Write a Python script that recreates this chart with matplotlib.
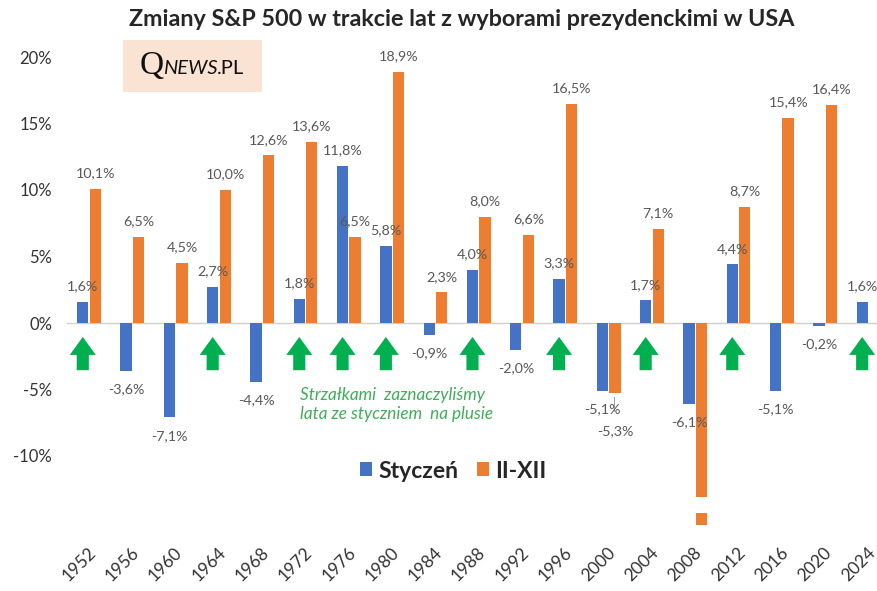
import matplotlib
matplotlib.use("Agg")
import matplotlib.pyplot as plt
from matplotlib.patches import Rectangle, FancyArrow, Patch
import matplotlib.transforms as mtrans
import numpy as np

plt.rcParams['font.family'] = ['Lato', 'DejaVu Sans']

years = ["1952", "1956", "1960", "1964", "1968", "1972", "1976", "1980", "1984", "1988",
         "1992", "1996", "2000", "2004", "2008", "2012", "2016", "2020", "2024"]
january = [1.6, -3.6, -7.1, 2.7, -4.4, 1.8, 11.8, 5.8, -0.9, 4.0,
           -2.0, 3.3, -5.1, 1.7, -6.1, 4.4, -5.1, -0.2, 1.6]
feb_dec = [10.1, 6.5, 4.5, 10.0, 12.6, 13.6, 6.5, 18.9, 2.3, 8.0,
           6.6, 16.5, -5.3, 7.1, -34.5, 8.7, 15.4, 16.4, None]
# bars beyond the axis are drawn broken and left unlabelled
broken_years = ["2008"]
yticks = [20, 15, 10, 5, 0, -5, -10]

BLUE = "#4472C4"
ORANGE = "#ED7D31"
GREEN = "#00B050"
LABEL = "#595959"

W, H = 878, 591
fig = plt.figure(figsize=(W / 100, H / 100), dpi=100)
YMIN, YMAX = -15.2, 21.0
ax_left = 67.4 / W
ax_w = (W - 67.4) / W
ax_top = 1 - (323 - YMAX * 13.3) / H
ax_bot = 1 - (323 - YMIN * 13.3) / H
ax = fig.add_axes([ax_left, ax_bot, ax_w, ax_top - ax_bot])

x = np.arange(len(years))
bw = 0.26
off = 0.145
ax.set_xlim(-0.5, (W - 67.4) / 43.3 - 0.5)
ax.set_ylim(YMIN, YMAX)

jan_arr = np.array(january, dtype=float)
fd_arr = np.array([np.nan if v is None else v for v in feb_dec], dtype=float)

ax.axhline(0, color="#D0D0D0", lw=1, zorder=1)
ax.bar(x - off, jan_arr, width=bw, color=BLUE, zorder=2)
ax.bar(x + off, fd_arr, width=bw, color=ORANGE, zorder=2)

def fmt(v):
    return f"{v:.1f}%".replace(".", ",")

LFS = 10.3
for i in range(len(years)):
    v = jan_arr[i]
    ax.annotate(fmt(v), (x[i] - off, v), xytext=(0, 7 if v >= 0 else -9),
                textcoords="offset points", ha="center",
                va="bottom" if v >= 0 else "top", fontsize=LFS, color=LABEL, zorder=4)
    w = fd_arr[i]
    if np.isnan(w):
        continue
    if years[i] in broken_years:
        # axis break drawn on the bar
        ax.add_patch(Rectangle((x[i] + off - bw * 0.7, -14.3), bw * 1.4, 1.23,
                               facecolor="white", edgecolor="none", zorder=3))
        continue
    dy = 7 if w >= 0 else -9
    if w < 0 and v < 0 and abs(w - v) < 1.5:
        dy = -23
        ax.plot([x[i] + off - 0.03, x[i] + off - 0.03], [w - 0.3, w - 1.3],
                color="#A0A0A0", lw=0.7, zorder=3)
    ax.annotate(fmt(w), (x[i] + off, w), xytext=(0, dy),
                textcoords="offset points", ha="center",
                va="bottom" if w >= 0 else "top", fontsize=LFS, color=LABEL, zorder=4)

# green arrows under years with positive January
for i in range(len(years)):
    if jan_arr[i] > 0:
        ax.add_patch(FancyArrow(x[i] - off, -3.55, 0, 2.5, width=0.28, head_width=0.6,
                                head_length=1.35, length_includes_head=True,
                                facecolor=GREEN, edgecolor="none", zorder=3))

for s in ax.spines.values():
    s.set_visible(False)
ax.set_yticks(yticks)
ax.set_yticklabels([f"{t}%" for t in yticks], fontsize=12, color="#333333")
ax.tick_params(axis="y", length=0, pad=11)
ax.set_xticks(x)
ax.set_xticklabels(years, rotation=45, ha="right", rotation_mode="anchor",
                   fontsize=12.5, color="#333333")
ax.tick_params(axis="x", length=0, pad=14)
shift = mtrans.ScaledTranslation(-1 / 72, 0, fig.dpi_scale_trans)
for lab in ax.get_xticklabels():
    lab.set_transform(lab.get_transform() + shift)

# title
fig.text(462 / W, 1 - 20 / H, "Zmiany S&P 500 w trakcie lat z wyborami prezydenckimi w USA",
         ha="center", va="center", fontsize=16.8, fontweight="bold", color="#262626")

# logo
fig.patches.append(Rectangle((123 / W, 1 - 92 / H), 139 / W, 52 / H,
                             transform=fig.transFigure, facecolor="#FBE3D3",
                             edgecolor="none", zorder=0))
base = 1 - 74 / H
tq = fig.text(140 / W, base, "Q", fontsize=24, family="Liberation Serif",
              color="#111111", va="baseline", ha="left")
fig.canvas.draw()
r = fig.canvas.get_renderer()
x1 = tq.get_window_extent(r).x1 / W - 1.5 / W
tn = fig.text(x1, base, "NEWS", fontsize=14.5, style="italic",
              color="#111111", va="baseline", ha="left")
fig.canvas.draw()
x2 = tn.get_window_extent(r).x1 / W
fig.text(x2, base, ".PL", fontsize=14.5, color="#111111", va="baseline", ha="left")

# note
fig.text(300 / W, 1 - 395 / H, "Strzałkami  zaznaczyliśmy", fontsize=12.3, style="italic",
         color="#3DAE5A", ha="left", va="center")
fig.text(300 / W, 1 - 414 / H, "lata ze styczniem  na plusie", fontsize=12.3, style="italic",
         color="#3DAE5A", ha="left", va="center")

# legend
handles = [Patch(facecolor=BLUE), Patch(facecolor=ORANGE)]
fig.legend(handles, ["Styczeń", "II-XII"], loc="center",
           bbox_to_anchor=(453 / W, 1 - 471 / H), ncol=2, frameon=False,
           prop={"size": 16.5, "weight": "bold"}, handlelength=0.55, handleheight=0.55,
           handletextpad=0.25, columnspacing=0.8, labelcolor="#262626")

fig.savefig("out.png", dpi=100)
